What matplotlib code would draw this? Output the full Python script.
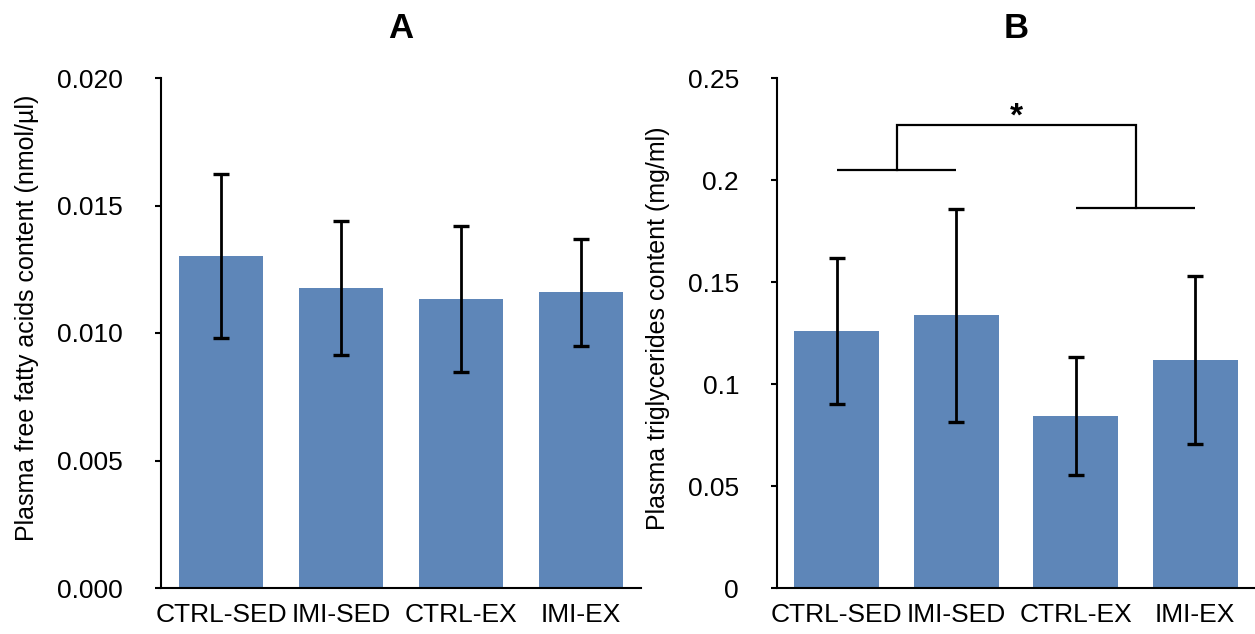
import matplotlib
matplotlib.use("Agg")
import matplotlib.pyplot as plt
from matplotlib.ticker import FixedLocator, FixedFormatter

plt.rcParams['font.family'] = ['Liberation Sans', 'DejaVu Sans']

categories = ["CTRL-SED", "IMI-SED", "CTRL-EX", "IMI-EX"]

# Panel A: plasma free fatty acids (nmol/µl)
ffa_mean = [0.01302, 0.01177, 0.01134, 0.01160]
ffa_err = [0.00320, 0.00263, 0.00286, 0.00210]
ffa_ticks = [0.000, 0.005, 0.010, 0.015, 0.020]
ffa_ticklabels = ["0.000", "0.005", "0.010", "0.015", "0.020"]

# Panel B: plasma triglycerides (mg/ml)
tg_mean = [0.1260, 0.1338, 0.0843, 0.1118]
tg_err = [0.0358, 0.0522, 0.0288, 0.0412]
tg_ticks = [0, 0.05, 0.10, 0.15, 0.20, 0.25]
tg_ticklabels = ["0", "0.05", "0.1", "0.15", "0.2", "0.25"]

# significance bracket levels (mg/ml)
sig_low_left = 0.2051
sig_low_right = 0.1863
sig_top = 0.2270
sig_star_y = 0.2310

bar_color = "#5E86B8"

fig = plt.figure(figsize=(12.55, 6.34), dpi=100)
axA = fig.add_axes([161/1255, 46/634, 480/1255, 510/634])
axB = fig.add_axes([777/1255, 46/634, 478/1255, 510/634])

def style(ax, ticks, labels, ylim, ylabel, ylab_x, ylab_y, title):
    ax.set_xlim(-0.5, 3.5)
    ax.set_ylim(*ylim)
    for s in ["top", "right"]:
        ax.spines[s].set_visible(False)
    for s in ["left", "bottom"]:
        ax.spines[s].set_linewidth(1.5)
    ax.yaxis.set_major_locator(FixedLocator(ticks))
    ax.yaxis.set_major_formatter(FixedFormatter(labels))
    ax.tick_params(axis='y', direction='out', length=4.3, width=1.5,
                   labelsize=19, pad=23)
    ax.set_xticks(range(len(categories)))
    ax.set_xticklabels(categories)
    ax.tick_params(axis='x', length=0, labelsize=19, pad=11)
    ax.text(ylab_x, ylab_y, ylabel, transform=ax.transAxes, rotation=90,
            ha='center', va='center', fontsize=18)
    ax.text(0.5, 1.0784, title, transform=ax.transAxes, ha='center',
            va='baseline', fontsize=25, fontweight='bold')

x = list(range(len(categories)))
axA.bar(x, ffa_mean, width=0.70, color=bar_color, zorder=2)
axA.errorbar(x, ffa_mean, yerr=ffa_err, fmt='none', ecolor='black',
             elinewidth=2.0, capsize=5.8, capthick=2.4, zorder=3)
style(axA, ffa_ticks, ffa_ticklabels, (0, 0.020),
      "Plasma free fatty acids content (nmol/µl)", -0.2802, 0.529, "A")

axB.bar(x, tg_mean, width=0.71, color=bar_color, zorder=2)
axB.errorbar(x, tg_mean, yerr=tg_err, fmt='none', ecolor='black',
             elinewidth=2.0, capsize=5.8, capthick=2.4, zorder=3)
style(axB, tg_ticks, tg_ticklabels, (0, 0.25),
      "Plasma triglycerides content (mg/ml)", -0.25, 0.51, "B")

# significance bracket
lw = 1.6
axB.plot([x[0], x[1]], [sig_low_left, sig_low_left], color='black', lw=lw, solid_capstyle='butt')
axB.plot([x[2], x[3]], [sig_low_right, sig_low_right], color='black', lw=lw, solid_capstyle='butt')
mid_l = (x[0] + x[1]) / 2
mid_r = (x[2] + x[3]) / 2
axB.plot([mid_l, mid_l, mid_r, mid_r],
         [sig_low_left, sig_top, sig_top, sig_low_right],
         color='black', lw=lw, solid_joinstyle='miter')
axB.text((mid_l + mid_r) / 2, sig_star_y, "*", ha='center', va='center',
         fontsize=24, fontweight='bold')

fig.savefig("out.png", dpi=100)
